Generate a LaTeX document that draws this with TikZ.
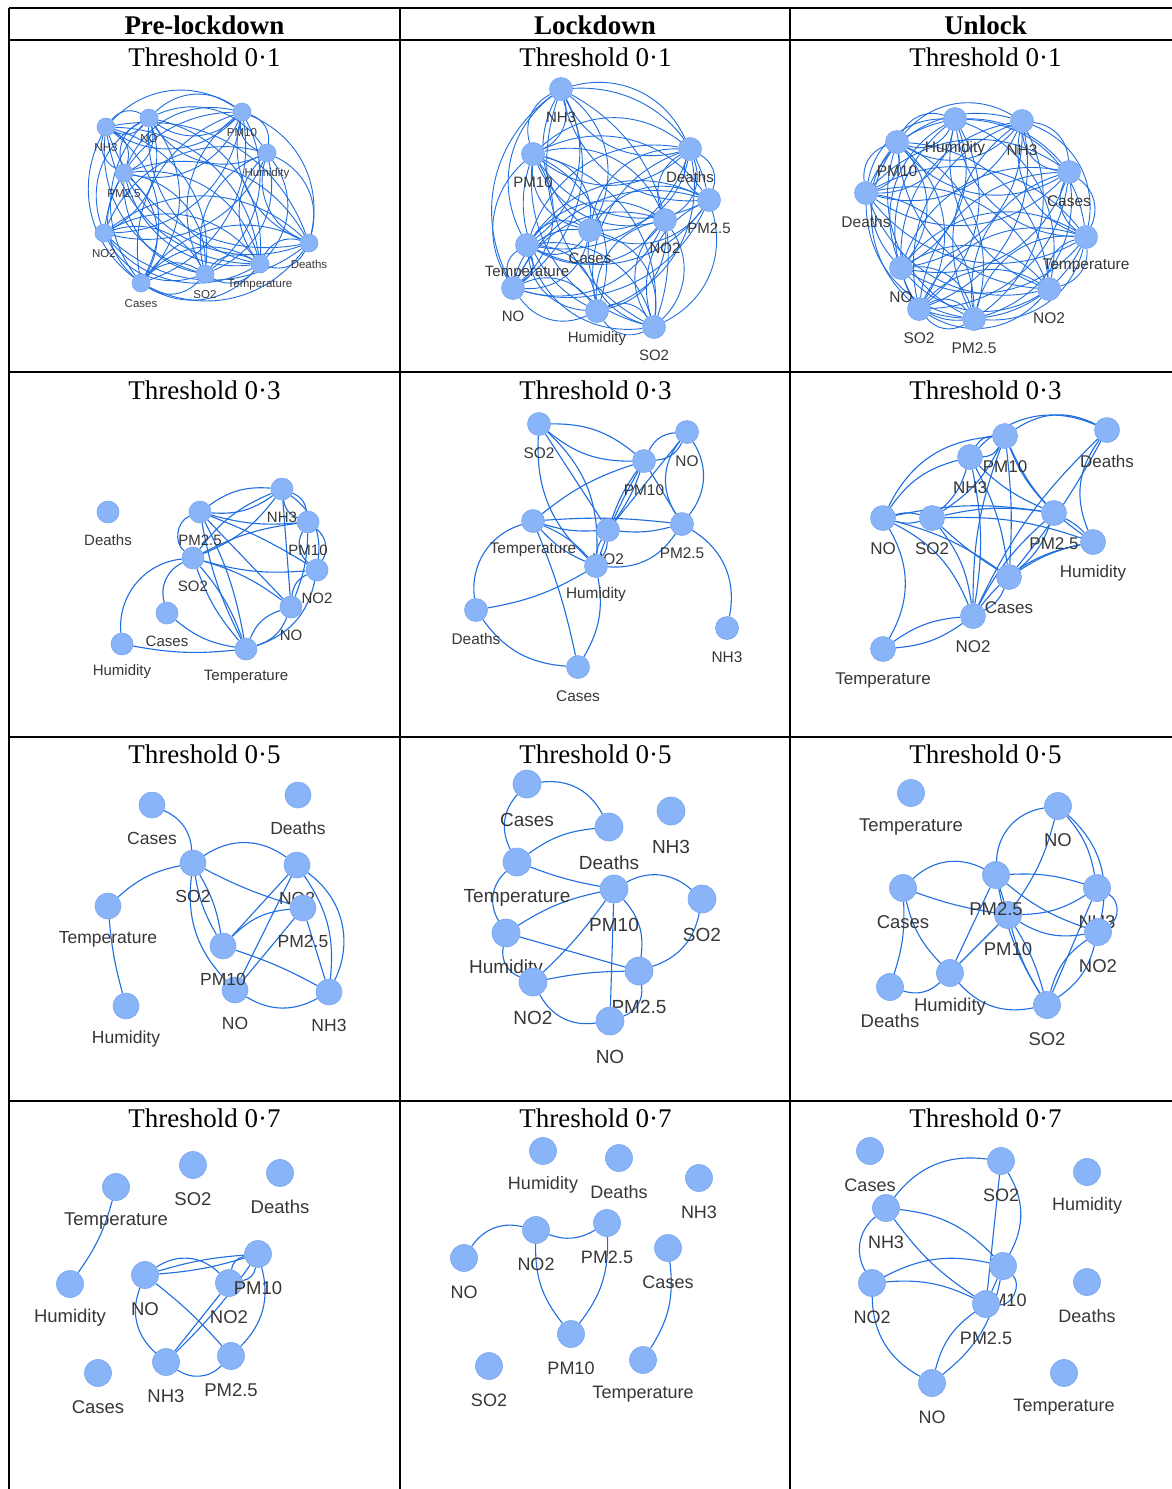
\documentclass[tikz,border=0pt]{standalone}
\usepackage{fontspec}
\setmainfont{Liberation Serif}
\setsansfont{Liberation Sans}
\definecolor{nodeblue}{RGB}{138,180,248}
\definecolor{nodeedge}{RGB}{120,165,240}
\definecolor{edgeblue}{RGB}{30,110,225}
\definecolor{labgray}{RGB}{55,55,55}
\pgfdeclarelayer{bg}
\pgfdeclarelayer{edges}
\pgfsetlayers{bg,edges,main}
\tikzset{
  vtx/.style={circle, fill=nodeblue, draw=nodeedge, line width=0.6pt, minimum size=\Dm pt, inner sep=0pt},
  lab/.style={font=\sffamily\fontsize{\F}{\F}\selectfont, text=labgray, inner sep=0pt},
  edge/.style={draw=edgeblue, line width=1.1pt},
  thinedge/.style={draw=edgeblue, line width=0.9pt},
  hdr/.style={font=\bfseries\fontsize{27}{30}\selectfont},
  thr/.style={font=\fontsize{27}{30}\selectfont},
  gridline/.style={line width=1.3pt, draw=black}
}
\newcommand\Nd[4]{\node[vtx] (#1) at (#2,-#3) {}; \node[lab] (#1l) at (#2,-#3-\LD) {#4};}
\newcommand\E[3]{\draw[edge] (#1) to[bend left=#3] (#2);}
\newcommand\D[3]{\draw[edge] (#1) to[bend left=#3] (#2);\draw[edge] (#1) to[bend right=#3] (#2);}
\newcommand\DT[3]{\draw[thinedge] (#1) to[bend left=#3] (#2);\draw[thinedge] (#1) to[bend right=#3] (#2);}
\begin{document}
\begin{tikzpicture}[x=1pt,y=1pt]
\useasboundingbox (0,0) rectangle (1172,-1489);
\begin{pgfonlayer}{bg}
\fill[white] (0,0) rectangle (1172,-1489);
\end{pgfonlayer}
% table
\draw[gridline] (9,-8) -- (1172,-8);
\draw[gridline] (9,-40) -- (1172,-40);
\draw[gridline] (9,-372) -- (1172,-372);
\draw[gridline] (9,-737) -- (1172,-737);
\draw[gridline] (9,-1101) -- (1172,-1101);
\draw[gridline] (9,-8) -- (9,-1489);
\draw[gridline] (400,-8) -- (400,-1489);
\draw[gridline] (790,-8) -- (790,-1489);
% headers
\node[hdr] (h1) at (204.5,-25) {Pre-lockdown};
\node[hdr] (h2) at (595,-25) {Lockdown};
\node[hdr] (h3) at (985.5,-25) {Unlock};
\foreach \c/\cx in {1/204.5,2/595.5,3/985.5}{
  \node[thr] (t1\c) at (\cx,-57) {Threshold 0·1};
  \node[thr] (t3\c) at (\cx,-390) {Threshold 0·3};
  \node[thr] (t5\c) at (\cx,-754) {Threshold 0·5};
  \node[thr] (t7\c) at (\cx,-1118) {Threshold 0·7};
}
% ===== panel a =====
\def\Dm{18}\def\F{11.5}\def\LD{21}
\Nd{aNH}{106}{127}{NH3}
\Nd{aNO}{149}{118}{NO}
\Nd{aPT}{242}{112}{PM10}
\Nd{aHU}{267}{153}{Humidity}
\Nd{aPF}{124}{173}{PM2.5}
\Nd{aNT}{104}{233}{NO2}
\Nd{aDE}{309}{243}{Deaths}
\Nd{aTE}{260}{264}{Temperature}
\Nd{aSO}{205}{274}{SO2}
\Nd{aCA}{141}{283}{Cases}
% ===== panel b =====
\def\Dm{23}\def\F{15}\def\LD{28}
\Nd{bNH}{561}{89}{NH3}
\Nd{bPT}{533}{154}{PM10}
\Nd{bDE}{690}{149}{Deaths}
\Nd{bPF}{709}{200}{PM2.5}
\Nd{bNT}{665}{220}{NO2}
\Nd{bCA}{590}{230}{Cases}
\Nd{bTE}{527}{245}{Temperature}
\Nd{bNO}{513}{288}{NO}
\Nd{bHU}{597}{311}{Humidity}
\Nd{bSO}{654}{327}{SO2}
% ===== panel c =====
\def\Dm{23}\def\F{15.5}\def\LD{29}
\Nd{cHU}{955}{119}{Humidity}
\Nd{cNH}{1022}{121}{NH3}
\Nd{cPT}{897}{142}{PM10}
\Nd{cCA}{1069}{172}{Cases}
\Nd{cDE}{866}{193}{Deaths}
\Nd{cTE}{1086}{237}{Temperature}
\Nd{cNO}{901}{268}{NO}
\Nd{cNT}{1049}{289}{NO2}
\Nd{cSO}{919}{309}{SO2}
\Nd{cPF}{974}{319}{PM2.5}
% ===== panel d =====
\def\Dm{22}\def\F{15}\def\LD{28}
\Nd{dDE}{108}{512}{Deaths}
\Nd{dPF}{200}{512}{PM2.5}
\Nd{dNH}{282}{489}{NH3}
\Nd{dPT}{308}{522}{PM10}
\Nd{dSO}{193}{558}{SO2}
\Nd{dNT}{317}{570}{NO2}
\Nd{dNO}{291}{607}{NO}
\Nd{dCA}{167}{613}{Cases}
\Nd{dHU}{122}{644}{Humidity}
\Nd{dTE}{246}{649}{Temperature}
% ===== panel e =====
\def\Dm{23}\def\F{15.4}\def\LD{29}
\Nd{eSO}{539}{424}{SO2}
\Nd{eNO}{687}{432}{NO}
\Nd{ePT}{644}{461}{PM10}
\Nd{eTE}{533}{521}{Temperature}
\Nd{eNT}{608}{530}{NO2}
\Nd{ePF}{682}{524}{PM2.5}
\Nd{eHU}{596}{566}{Humidity}
\Nd{eDE}{476}{610}{Deaths}
\Nd{eNH}{727}{628}{NH3}
\Nd{eCA}{578}{667}{Cases}
% ===== panel f =====
\def\Dm{25}\def\F{17}\def\LD{31}
\Nd{fPT}{1005}{436}{PM10}
\Nd{fDE}{1107}{430}{Deaths}
\Nd{fNH}{970}{457}{NH3}
\Nd{fNO}{883}{518}{NO}
\Nd{fSO}{932}{518}{SO2}
\Nd{fPF}{1054}{513}{PM2.5}
\Nd{fHU}{1093}{542}{Humidity}
\Nd{fCA}{1009}{577}{Cases}
\Nd{fNT}{973}{616}{NO2}
\Nd{fTE}{883}{649}{Temperature}
% ===== panel g =====
\def\Dm{26}\def\F{17.5}\def\LD{33}
\Nd{gCA}{152}{805}{Cases}
\Nd{gDE}{298}{795}{Deaths}
\Nd{gSO}{193}{863}{SO2}
\Nd{gNT}{297}{865}{NO2}
\Nd{gTE}{108}{906}{Temperature}
\Nd{gPF}{303}{908}{PM2.5}
\Nd{gNO}{235}{990}{NO}
\Nd{gPT}{223}{946}{PM10}
\Nd{gNH}{329}{992}{NH3}
\Nd{gHU}{126}{1006}{Humidity}
% ===== panel h =====
\def\Dm{28}\def\F{19}\def\LD{36}
\Nd{hCA}{527}{784}{Cases}
\Nd{hDE}{609}{827}{Deaths}
\Nd{hNH}{671}{811}{NH3}
\Nd{hTE}{517}{862}{Temperature}
\Nd{hPT}{614}{889}{PM10}
\Nd{hSO}{702}{899}{SO2}
\Nd{hHU}{506}{933}{Humidity}
\Nd{hPF}{639}{971}{PM2.5}
\Nd{hNT}{533}{982}{NO2}
\Nd{hNO}{610}{1021}{NO}
% ===== panel i =====
\def\Dm{27}\def\F{18.5}\def\LD{34}
\Nd{iTE}{911}{793}{Temperature}
\Nd{iNO}{1058}{806}{NO}
\Nd{iCA}{903}{888}{Cases}
\Nd{iNH}{1097}{888}{NH3}
\Nd{iNT}{1098}{932}{NO2}
\Nd{iPT}{1008}{915}{PM10}
\Nd{iPF}{996}{875}{PM2.5}
\Nd{iHU}{950}{973}{Humidity}
\Nd{iDE}{890}{987}{Deaths}
\Nd{iSO}{1047}{1005}{SO2}
% ===== panel j =====
\def\Dm{27}\def\F{18.5}\def\LD{34}
\Nd{jTE}{116}{1187}{Temperature}
\Nd{jSO}{193}{1165}{SO2}
\Nd{jDE}{280}{1173}{Deaths}
\Nd{jHU}{70}{1284}{Humidity}
\Nd{jNO}{145}{1275}{NO}
\Nd{jNT}{229}{1283}{NO2}
\Nd{jPT}{258}{1254}{PM10}
\Nd{jNH}{166}{1362}{NH3}
\Nd{jPF}{231}{1356}{PM2.5}
\Nd{jCA}{98}{1373}{Cases}
% ===== panel k =====
\def\Dm{27}\def\F{18}\def\LD{34}
\Nd{kHU}{543}{1151}{Humidity}
\Nd{kDE}{619}{1158}{Deaths}
\Nd{kNH}{699}{1178}{NH3}
\Nd{kNT}{536}{1230}{NO2}
\Nd{kPF}{607}{1223}{PM2.5}
\Nd{kNO}{464}{1258}{NO}
\Nd{kCA}{668}{1248}{Cases}
\Nd{kPT}{571}{1334}{PM10}
\Nd{kSO}{489}{1366}{SO2}
\Nd{kTE}{643}{1360}{Temperature}
% ===== panel l =====
\def\Dm{27}\def\F{18}\def\LD{34}
\Nd{lCA}{870}{1151}{Cases}
\Nd{lSO}{1001}{1161}{SO2}
\Nd{lHU}{1087}{1172}{Humidity}
\Nd{lNH}{886}{1208}{NH3}
\Nd{lPT}{1003}{1266}{PM10}
\Nd{lNT}{872}{1283}{NO2}
\Nd{lDE}{1087}{1282}{Deaths}
\Nd{lPF}{986}{1304}{PM2.5}
\Nd{lNO}{932}{1383}{NO}
\Nd{lTE}{1064}{1373}{Temperature}
% ===== edges =====
\begin{pgfonlayer}{edges}
\foreach \p in {a,b,c}{
 \foreach \u [count=\i] in {NH,NO,NT,PT,PF,SO,HU,TE,CA,DE}{
  \foreach \v [count=\j] in {NH,NO,NT,PT,PF,SO,HU,TE,CA,DE}{
   \ifnum\j>\i
     \pgfmathtruncatemacro\m{mod(\i*7+\j*3,4)}
     \ifnum\m>0 \DT{\p\u}{\p\v}{40}\fi
   \fi
  }}}
% d
\D{dPF}{dNH}{20}
\E{dPF}{dPT}{-10}
\E{dPF}{dNT}{5}
\E{dPF}{dNO}{0}
\D{dPF}{dTE}{8}
\E{dPF}{dSO}{-60}
\D{dNH}{dPT}{30}
\E{dNH}{dNO}{0}
\E{dNH}{dNT}{30}
\D{dNH}{dSO}{15}
\E{dPT}{dSO}{-10}
\D{dPT}{dNT}{40}
\E{dPT}{dNO}{10}
\E{dSO}{dNT}{-10}
\E{dSO}{dNO}{10}
\D{dSO}{dTE}{10}
\E{dSO}{dCA}{-40}
\E{dSO}{dHU}{-45}
\E{dCA}{dTE}{-15}
\E{dHU}{dTE}{-8}
\D{dTE}{dNO}{25}
\E{dTE}{dNT}{-30}
\E{dNO}{dNT}{30}
% e
\D{eSO}{ePT}{20}
\E{eSO}{eNT}{0}
\D{eSO}{eHU}{25}
\D{ePT}{eNO}{30}
\E{ePT}{ePF}{0}
\E{ePT}{eTE}{-10}
\D{ePT}{eNT}{8}
\E{ePT}{eHU}{-5}
\E{eNO}{eNT}{0}
\D{eNO}{ePF}{35}
\E{eTE}{eNT}{-10}
\E{eTE}{ePF}{5}
\D{eTE}{eHU}{12}
\E{eTE}{eDE}{-40}
\E{eTE}{eCA}{5}
\E{eNT}{ePF}{-10}
\D{eNT}{eHU}{15}
\E{eHU}{eDE}{10}
\E{eHU}{eCA}{20}
\E{eHU}{ePF}{-30}
\E{eDE}{eCA}{-25}
\E{ePF}{eNH}{35}
% f
\E{fPT}{fDE}{30}
\D{fPT}{fNH}{30}
\E{fPT}{fNO}{-30}
\E{fPT}{fSO}{15}
\E{fPT}{fPF}{-10}
\E{fPT}{fHU}{-15}
\E{fPT}{fCA}{5}
\E{fPT}{fNT}{-10}
\E{fNH}{fNO}{-20}
\E{fNH}{fSO}{15}
\E{fNH}{fDE}{35}
\E{fNH}{fPF}{-10}
\E{fNH}{fCA}{10}
\E{fNH}{fNT}{10}
\D{fNO}{fSO}{15}
\E{fNO}{fPF}{10}
\E{fNO}{fCA}{10}
\E{fNO}{fNT}{20}
\E{fNO}{fTE}{30}
\E{fSO}{fPF}{10}
\E{fSO}{fHU}{10}
\E{fSO}{fCA}{-5}
\E{fSO}{fNT}{15}
\E{fPF}{fHU}{10}
\E{fPF}{fCA}{15}
\E{fPF}{fNT}{-10}
\E{fDE}{fHU}{-30}
\E{fDE}{fCA}{5}
\E{fDE}{fNT}{-10}
\E{fHU}{fCA}{-10}
\E{fHU}{fNT}{-20}
\E{fCA}{fNT}{20}
\D{fNT}{fTE}{15}
% g
\E{gCA}{gSO}{30}
\E{gSO}{gTE}{-15}
\E{gTE}{gHU}{-5}
\E{gSO}{gNT}{35}
\E{gSO}{gPF}{-5}
\D{gSO}{gPT}{10}
\E{gSO}{gNO}{-25}
\E{gNT}{gPT}{0}
\E{gNT}{gNO}{0}
\E{gNT}{gNH}{20}
\E{gNT}{gNH}{40}
\E{gPF}{gPT}{-20}
\E{gPF}{gNO}{0}
\E{gPF}{gNH}{0}
\E{gPT}{gNH}{5}
\E{gNO}{gNH}{-30}
% h
\E{hCA}{hDE}{35}
\E{hCA}{hTE}{-35}
\E{hDE}{hTE}{-15}
\E{hTE}{hPT}{-5}
\E{hTE}{hHU}{-40}
\E{hPT}{hSO}{35}
\E{hPT}{hHU}{-10}
\E{hPT}{hNT}{5}
\E{hPT}{hNO}{0}
\E{hPT}{hPF}{25}
\E{hHU}{hPF}{0}
\E{hHU}{hNT}{-40}
\E{hNT}{hPF}{5}
\E{hNT}{hNO}{-35}
\E{hNO}{hPF}{-40}
\E{hSO}{hPF}{30}
% i
\E{iNO}{iPF}{-40}
\E{iNO}{iPT}{10}
\E{iNO}{iNH}{15}
\E{iNO}{iNT}{30}
\E{iPF}{iCA}{-35}
\E{iPF}{iNH}{10}
\E{iPF}{iNT}{-10}
\E{iPF}{iHU}{0}
\E{iPF}{iSO}{-10}
\E{iPF}{iPT}{0}
\E{iCA}{iPT}{-5}
\E{iCA}{iHU}{-15}
\E{iCA}{iDE}{10}
\E{iNH}{iPT}{15}
\E{iNH}{iNT}{60}
\E{iNH}{iSO}{0}
\E{iPT}{iHU}{0}
\D{iPT}{iSO}{8}
\E{iPT}{iNT}{-20}
\E{iHU}{iDE}{30}
\E{iHU}{iSO}{-30}
\D{iNT}{iSO}{20}
% j
\E{jTE}{jHU}{10}
\D{jNO}{jPT}{6}
\E{jNO}{jNH}{-35}
\E{jNO}{jPF}{5}
\E{jNO}{jNT}{40}
\D{jNT}{jPT}{35}
\E{jNT}{jNH}{0}
\E{jPT}{jNH}{5}
\E{jPT}{jPF}{30}
\E{jNH}{jPF}{-40}
% k
\E{kNO}{kNT}{35}
\E{kNT}{kPF}{-25}
\E{kNT}{kPT}{-20}
\E{kPF}{kPT}{20}
\E{kCA}{kTE}{20}
% l
\E{lNH}{lSO}{30}
\E{lNH}{lPT}{20}
\E{lNH}{lPF}{-10}
\E{lNH}{lNT}{-40}
\E{lSO}{lPT}{30}
\E{lSO}{lPF}{0}
\E{lNT}{lPT}{20}
\E{lNT}{lPF}{15}
\E{lNT}{lNO}{-30}
\E{lPT}{lPF}{0}
\E{lPT}{lPF}{70}
\E{lNO}{lPF}{20}
\E{lNO}{lPT}{-20}
\end{pgfonlayer}
\end{tikzpicture}
\end{document}
